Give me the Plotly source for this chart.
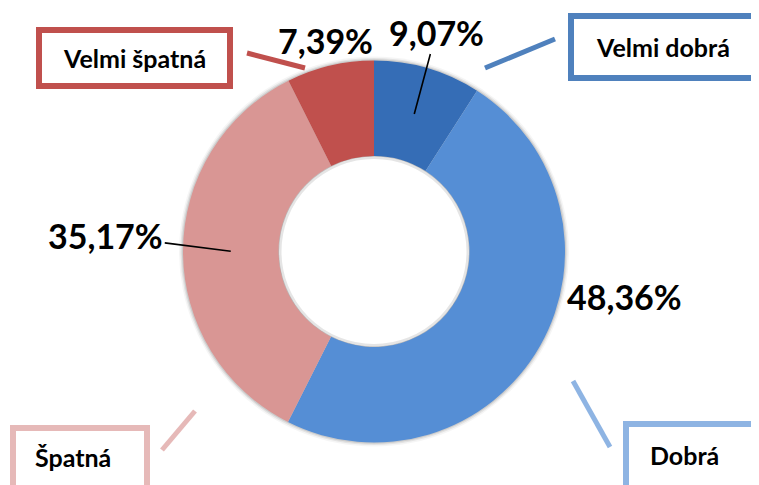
import math
import plotly.graph_objects as go

# hodnocení (podíly v %)
labels = ["Velmi dobrá", "Dobrá", "Špatná", "Velmi špatná"]
values = [9.07, 48.36, 35.17, 7.39]
colors = ["#356db6", "#558ed5", "#d99694", "#c0504d"]
frame_colors = ["#4f81bd", "#8eb4e3", "#e6b9b8", "#c0504d"]
# label offset from slice anchor (px) and whether a leader line is drawn
label_dx = [22, 126, -125, -16]
label_dy = [-82, -26, -16, -72]
leader = [True, False, True, False]

W, H = 759, 485
OFF = 8                       # page body margin shifts the plot by 8px
CX, CY, R = 374, 251.5, 191   # pie centre / radius in screen px
HOLE = 0.5


def px(x):
    return (x - OFF) / W


def py(y):
    return 1 - (y - OFF) / H


fig = go.Figure(go.Pie(
    labels=labels, values=values, sort=False, direction="clockwise", rotation=0,
    hole=HOLE, textinfo="none", hoverinfo="label+percent",
    marker=dict(colors=colors, line=dict(width=0)),
    domain=dict(x=[px(CX - R), px(CX + R)], y=[py(CY + R), py(CY - R)]),
    showlegend=False,
))

shapes = []
# soft shadow around the ring
for grow, op in [(4, 0.04), (2.5, 0.07), (1.2, 0.10)]:
    shapes.append(dict(type="circle", xref="paper", yref="paper", layer="below",
                       x0=px(CX - R - grow), x1=px(CX + R + grow),
                       y0=py(CY + R + grow), y1=py(CY - R - grow),
                       fillcolor=f"rgba(0,0,0,{op})", line=dict(width=0)))
rin = R * HOLE
shapes.append(dict(type="circle", xref="paper", yref="paper", layer="below",
                   x0=px(CX - rin + 0.5), x1=px(CX + rin - 0.5),
                   y0=py(CY + rin - 0.5), y1=py(CY - rin + 0.5),
                   fillcolor="white", line=dict(width=0)))
shapes.append(dict(type="circle", xref="paper", yref="paper", layer="above",
                   x0=px(CX - rin + 1.5), x1=px(CX + rin - 1.5),
                   y0=py(CY + rin - 1.5), y1=py(CY - rin + 1.5),
                   line=dict(color="rgba(0,0,0,0.10)", width=3)))

# legend frames and their pointer bars
frames = {
    "Velmi dobrá": ((571, 16, 762, 78), (485, 68, 555, 39), (663, 47)),
    "Dobrá": ((626, 424, 762, 496), (573, 381, 610, 447), (684, 455)),
    "Špatná": ((13, 428, 147, 496), (162, 450, 195, 411), (73, 457)),
    "Velmi špatná": ((39, 30, 230, 86), (247, 53, 305, 68), (134, 58)),
}
annotations = []
for name, col in zip(labels, frame_colors):
    (bx0, by0, bx1, by1), (lx0, ly0, lx1, ly1), (tx, ty) = frames[name]
    shapes.append(dict(type="rect", xref="paper", yref="paper",
                       x0=px(bx0), x1=px(bx1), y0=py(by1), y1=py(by0),
                       line=dict(color=col, width=6), fillcolor="white"))
    shapes.append(dict(type="line", xref="paper", yref="paper",
                       x0=px(lx0), x1=px(lx1), y0=py(ly0), y1=py(ly1),
                       line=dict(color=col, width=5)))
    annotations.append(dict(x=px(tx), y=py(ty), xref="paper", yref="paper",
                            xanchor="center", yanchor="middle",
                            text=f"<b>{name}</b>", showarrow=False,
                            font=dict(family="Lato", size=25, color="black")))

# percentage labels anchored at slice middles (mid-ring radius)
total = sum(values)
cum = 0
rmid = R * (1 + HOLE) / 2
for v, dx, dy, ld in zip(values, label_dx, label_dy, leader):
    ang = math.radians((cum + v / 2) / total * 360)
    cum += v
    ax_px = CX + rmid * math.sin(ang)
    ay_px = CY - rmid * math.cos(ang)
    annotations.append(dict(
        x=px(ax_px), y=py(ay_px), xref="paper", yref="paper",
        text="<b>" + f"{v:.2f}".replace(".", ",") + "%</b>",
        showarrow=True, ax=dx, ay=dy, arrowhead=0, arrowwidth=1.6,
        arrowcolor="black" if ld else "rgba(0,0,0,0)",
        font=dict(family="Lato", size=34, color="black")))

fig.update_layout(
    width=W, height=H, margin=dict(l=0, r=0, t=0, b=0),
    paper_bgcolor="white", plot_bgcolor="white",
    shapes=shapes, annotations=annotations,
)
fig.write_html("out.html")
